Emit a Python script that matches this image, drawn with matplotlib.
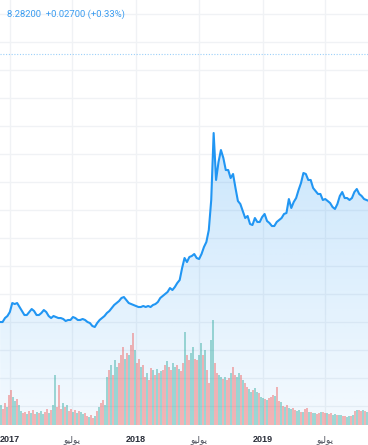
import numpy as np
import pandas as pd
import matplotlib
matplotlib.use("Agg")
import matplotlib.pyplot as plt
import matplotlib.dates as mdates

# ---------------- data ----------------
price = [
    3.500, 3.500, 3.571, 3.607, 3.679, 3.839, 3.821, 3.839, 3.768, 3.696,
    3.625, 3.625, 3.679, 3.732, 3.696, 3.625, 3.625, 3.661, 3.714, 3.679,
    3.607, 3.571, 3.607, 3.589, 3.571, 3.571, 3.554, 3.518, 3.536, 3.536,
    3.589, 3.571, 3.536, 3.536, 3.554, 3.536, 3.500, 3.482, 3.429, 3.411,
    3.482, 3.536, 3.571, 3.607, 3.661, 3.696, 3.750, 3.804, 3.839, 3.875,
    3.929, 3.946, 3.893, 3.839, 3.821, 3.804, 3.786, 3.768, 3.768, 3.786,
    3.768, 3.786, 3.768, 3.804, 3.821, 3.857, 3.929, 3.964, 4.000, 4.036,
    4.107, 4.071, 4.125, 4.196, 4.250, 4.464, 4.643, 4.571, 4.661, 4.679,
    4.714, 4.643, 4.625, 4.714, 4.839, 4.929, 5.143, 5.679, 6.875, 6.036,
    6.357, 6.571, 6.429, 6.214, 6.214, 6.071, 6.143, 5.893, 5.661, 5.607,
    5.482, 5.357, 5.393, 5.250, 5.232, 5.357, 5.286, 5.286, 5.375, 5.429,
    5.304, 5.268, 5.214, 5.214, 5.286, 5.321, 5.357, 5.429, 5.446, 5.696,
    5.536, 5.643, 5.714, 5.857, 5.982, 6.161, 6.143, 6.036, 6.036, 5.893,
    5.839, 5.786, 5.786, 5.679, 5.696, 5.661, 5.625, 5.554, 5.518, 5.607,
    5.750, 5.821, 5.714, 5.714, 5.679, 5.714, 5.821, 5.875, 5.786, 5.750,
    5.696, 5.679, 5.661,
]
price_start = "2016-12-05"          # weekly closes

volume = [
    20, 16, 22, 18, 30, 35, 28, 24, 26, 20, 14, 12, 13, 11, 14, 12, 15, 11, 13, 12,
    14, 11, 13, 16, 12, 15, 20, 50, 18, 40, 16, 22, 18, 20, 14, 16, 13, 15, 12, 14,
    13, 11, 12, 9, 8, 10, 7, 9, 14, 18, 22, 25, 20, 48, 55, 60, 50, 65, 58, 62,
    70, 78, 66, 72, 70, 80, 92, 75, 62, 66, 58, 60, 48, 52, 45, 57, 55, 50, 56, 52,
    54, 55, 60, 64, 58, 55, 62, 58, 60, 56, 54, 62, 93, 70, 65, 72, 78, 66, 65, 70,
    82, 70, 75, 55, 42, 85, 105, 62, 52, 50, 48, 46, 48, 45, 47, 52, 58, 50, 48, 52,
    50, 45, 42, 38, 36, 33, 35, 37, 33, 32, 28, 27, 26, 25, 27, 28, 30, 29, 38, 24,
    23, 19, 18, 20, 17, 16, 17, 15, 14, 15, 13, 13, 16, 17, 13, 13, 12, 12, 11, 12,
    13, 13, 12, 12, 11, 12, 10, 11, 10, 10, 10, 9, 9, 8, 9, 9, 10, 14, 15, 15,
    14, 15, 14, 13,
]
volume_dir = (
    "uddudduu" "duuddudu" "dduduudd" "uduudddu" "duddudud" "uudduddu"
    "dudduudu" "duudddud" "udduddud" "duddudud" "uddudduu" "dudduddu"
    "udduudud" "duudduud" "uddudduu" "dudduudu" "uduududd" "duddudud"
    "uudduudu" "dduduudd" "uddudduu" "duudduud" "ududdudu"
)

tick_dates = ["2017-01-01", "2017-07-01", "2018-01-01", "2018-07-01", "2019-01-01", "2019-07-01"]
# "يوليو" written with Arabic presentation forms in display order,
# because matplotlib does not shape right-to-left Arabic text itself.
july = "\uFEEE\uFEF4\uFEDF\uFEEE\uFEF3"
tick_labels = ["2017", july, "2018", july, "2019", july]

last_price = 8.282
header = "8.28200  +0.02700 (+0.33%)"

# ---------------- layout ----------------
W, H = 368, 445
fig = plt.figure(figsize=(W / 100, H / 100), dpi=100)
fig.patch.set_facecolor("white")
ax = fig.add_axes([0, 20 / H, 1, 425 / H])
axv = ax.twinx()
axl = ax.twinx()

px_per_day = 0.3466
x0 = pd.Timestamp("2016-12-04 14:00")
x1 = x0 + pd.Timedelta(days=W / px_per_day)
ylo, yhi = 1.661, 9.25

pdates = pd.date_range(price_start, periods=len(price), freq="7D")
px = mdates.date2num(pdates)
py = np.array(price)

for a in (ax, axv, axl):
    a.set_xlim(mdates.date2num(x0), mdates.date2num(x1))
    for s in a.spines.values():
        s.set_visible(False)
    a.tick_params(left=False, right=False, labelleft=False, labelright=False,
                  bottom=False, top=False)
ax.set_ylim(ylo, yhi)
axl.set_ylim(ylo, yhi)
axv.set_ylim(0, 425)
ax.set_facecolor("white")
axv.patch.set_visible(False)
axl.patch.set_visible(False)

# grid
ax.set_yticks(np.arange(2.0, 9.01, 0.5))
ax.set_xticks(mdates.date2num(pd.to_datetime(tick_dates)))
ax.grid(True, color="#f0f2f5", lw=1)
ax.set_axisbelow(True)

# gradient area fill
poly = ax.fill_between(px, py, ylo, color="none", lw=0)
top_price = py.max()
grad = np.zeros((256, 2, 4))
grad[..., 0] = 33 / 255
grad[..., 1] = 150 / 255
grad[..., 2] = 243 / 255
grad[..., 3] = np.linspace(0.24, 0.05, 256)[:, None]
im = ax.imshow(grad, aspect="auto", origin="upper",
               extent=[px.min(), px.max(), ylo, top_price], zorder=1)
im.set_clip_path(poly.get_paths()[0], transform=ax.transData)
ax.set_xlim(mdates.date2num(x0), mdates.date2num(x1))
ax.set_ylim(ylo, yhi)

# volume bars
days_per_bar = 2 / px_per_day
vx = mdates.date2num(x0) + (np.arange(len(volume)) + 0.5) * days_per_bar
vcol = ["#26a69a" if c == "u" else "#ef5350" for c in volume_dir]
axv.bar(vx, volume, width=days_per_bar * 0.7, color=vcol, alpha=0.42, lw=0)

# price line and last-price line
axl.plot(px, py, color="#2196f3", lw=1.5, solid_joinstyle="round")
axl.axhline(last_price, color="#2196f3", lw=0.8, ls=(0, (1, 1.5)), alpha=0.45)

# tick labels
ax.set_xticklabels(tick_labels)
ax.tick_params(axis="x", pad=4, labelsize=6.5)
for t in ax.get_xticklabels():
    if t.get_text().isdigit():
        t.set_fontweight("bold")
        t.set_color("#2a2e39")
        t.set_fontfamily(["Liberation Sans", "DejaVu Sans"])
    else:
        t.set_color("#50535e")
        t.set_fontfamily(["DejaVu Sans"])

# header text
fig.text(7 / W, 1 - 14 / H, header, ha="left", va="center", fontsize=6.8,
         color="#3a9cf0", family=["Roboto", "DejaVu Sans"])

fig.savefig("out.png", dpi=100)
